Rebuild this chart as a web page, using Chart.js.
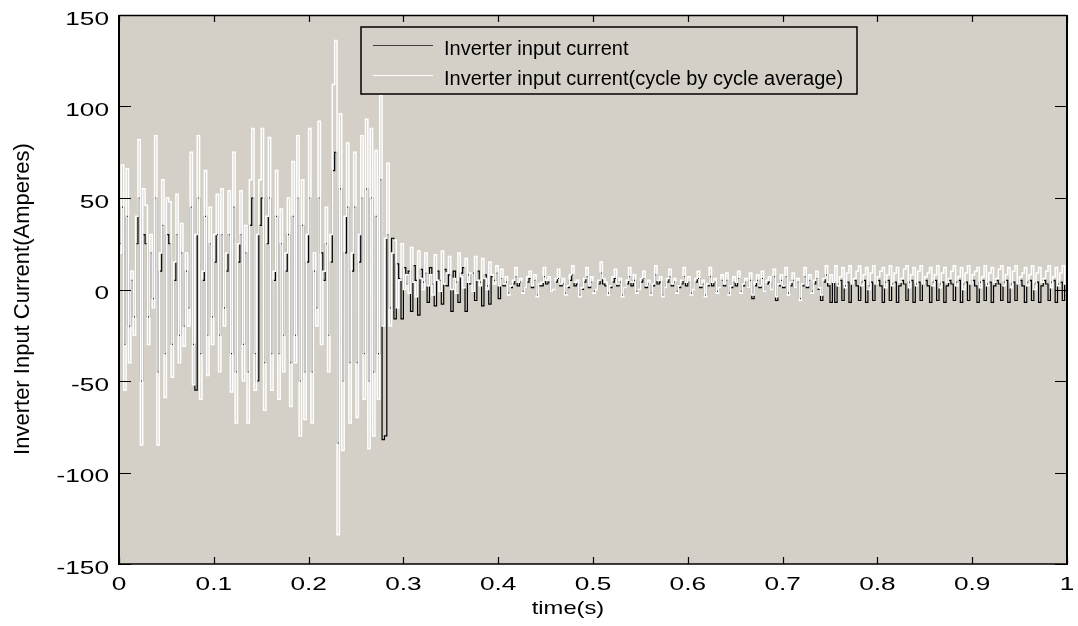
<!DOCTYPE html>
<html>
<head>
<meta charset="utf-8">
<script src="https://cdn.jsdelivr.net/npm/chart.js@4/dist/chart.umd.min.js"></script>
<style>
  html, body { margin: 0; padding: 0; background: #ffffff; }
  #wrap { width: 1078px; height: 626px; position: relative; }
</style>
</head>
<body>
<div id="wrap"><canvas id="c" width="1078" height="626"></canvas></div>
<script>
// Sample spacing of both current records (seconds)
const sampleStep = 0.0025;

// Inverter input current (A), one value per sample
const inputCurrent = [
  25, 45, -30, 40, -20, 5, -15, 25, 50, -50,
  30, 25, -15, 20, -5, 50, -45, 10, 35, -35,
  30, 25, -30, 5, 30, -25, 20, -20, 10, -10,
  45, -30, -55, 50, -35, 5, 40, -25, 25, -15,
  15, 30, -25, 30, -10, 10, 30, -35, 45, -45,
  15, 30, -30, 20, -45, 35, 50, -35, -50, 35,
  50, -40, 25, 50, -35, 5, 40, -35, 25, -25,
  10, 30, -40, 40, -25, 50, -50, 35, -45, 15,
  50, -45, 10, -10, 50, 20, 5, 25, -25, 15,
  65, 75, -84, 55, -50, 20, 45, -40, 10, 45,
  -40, 15, 50, -35, 55, -50, 50, -45, 40, -35,
  60, -82, -80, 30, -10, 28,
  -16, 14, 6, -16, 12, 3, 10, -12, 13, 5,
  -14, 11, 4, 9, -7, 12, 3, -9, 10, 5,
  -8, 11, 2, 8, -12, 10, 4, -7, 9, 12,
  -12, 8, 3, 9, -6, 10, 4, -9, 8, 2,
  -8, 7, 5, 9, -5,
  6, 2, 4, -2, 1, 3,    7, 2, 4, -1, 1, 4,
  6, 1, 5, -3, 2, 2,    7, 3, 4, -1, 0, 4,
  6, 2, 3, -2, 1, 5,    8, 2, 3, -3, 0, 4,
  7, 1, 4, -1, 0, 3,    9, 3, 2, -2, 1, 4,
  6, 2, 4, -3, 1, 3,    7, 2, 5, -1, 0, 4,
  6, 1, 3, -2, 2, 8,    3, 4, -3, 1, 4, 7,
  2, 4, -1, 1, 3, 7,    2, 4, -2, 0, 4, 6,
  1, 3, -3, 2, 7, 2,    4, -1, 1, 5, 2, 5,
  -2, 1, 4, 2, 6, -1,   2, 4, 1, 5, -5, 2,
  5, 1, 6, -1, 3, 4,    0, 7, -6, 2, 5, 1,
  7, -2, 2, 5, 1, 4,    -5, 2, 7, 1, 5, -1,
  3, 6, 0, -6, 4, 8,    2, -7,
  4, -7, 3, 5, -6, 2, 4, -7, 3, 5,
  2, -6, 4, 5, -7, 2, 4, -6, 3, 5,
  2, -7, 4, 5, -6, 3, 4, -7, 2, 5,
  3, -6, 4, 5, -7, 3, 4, -6, 3, 5,
  2, -7, 4, 5, -6, 3, 4, -7, 2, 5,
  3, -6, 4, 5, -7, 3, 4, -6, 3, 5,
  2, -7, 4, 5, -6, 3, 4, -7, 2, 5,
  3, -6, 4, 5, -7, 3, 4, -6, 3, 5,
  2, -7, 4, 5, -6, 3, 4, -7, 2, 5,
  3, -6, 4, 5, -7, 3, 4, -6, 3, 5
];

// Cycle-by-cycle average of the inverter input current (A)
const averageCurrent = [
  20, 68, -55, 66, -40, 10, -25, 40, 82, -85,
  55, 46, -30, 30, -10, 84, -85, 20, 60, -59,
  50, 48, -48, 15, 52, -40, 36, -31, 20, -20,
  75, -52, 30, 84, -60, 10, 65, -47, 45, -30,
  30, 52, -45, 55, -20, 20, 54, -56, 75, -73,
  25, 54, -50, 35, -73, 60, 88, -55, 30, 60,
  88, -66, 40, 83, -55, 10, 65, -60, 44, -45,
  20, 50, -64, 70, -40, 84, -80, 60, -71, 30,
  88, -73, 20, -20, 92, -30, 10, 45, -45, 30,
  112, 136, -134, 96, -88, 40, 80, -73, 20, 75,
  -70, 30, 84, -60, 93, -87, 88, -80, 76, -60,
  106, -20, 28, 69, -20, 20,
  27, -10, 5, 25, 0, 8, -2, 23, 4, -4,
  21, 6, 0, 20, 2, 8, -3, 19, 5, -1,
  21, 3, 9, 18, 0, 6, -2, 20, 7, 1,
  17, 4, 9, -1, 18, 5, 2, 17, 6, 0,
  15, 8, 3, 13, 2,
  11, 3, 7, -3, 2, 5,   12, 4, 6, -2, 1, 7,
  10, 2, 8, -4, 3, 4,   12, 5, 7, -1, 0, 6,
  11, 3, 6, -3, 2, 8,   13, 4, 5, -4, 1, 6,
  12, 2, 7, -2, 0, 5,   15, 6, 4, -3, 2, 7,
  11, 3, 6, -4, 1, 5,   12, 4, 8, -2, 0, 6,
  10, 2, 5, -3, 3, 13,  5, 7, -4, 1, 6, 11,
  3, 6, -2, 2, 5, 12,   4, 7, -3, 0, 6, 10,
  2, 5, -4, 3, 12, 4,   6, -2, 1, 8, 3, 9,
  -3, 2, 7, 4, 10, -2,  3, 6, 1, 9, -3, 4,
  8, 2, 10, -1, 5, 7,   0, 11, -4, 3, 8, 2,
  12, -3, 4, 9, 1, 6,   -6, 3, 12, 2, 8, -2,
  5, 10, 1, -3, 6, 13,  4, 8,
  4, 13, 2, 7, 12, 1, 9, 13, 3, 6,
  10, 13, 2, 8, 12, 0, 9, 13, 3, 7,
  10, 12, 1, 8, 13, 2, 9, 12, 4, 6,
  11, 13, 1, 8, 12, 2, 10, 13, 3, 7,
  9, 12, 2, 8, 13, 1, 9, 12, 4, 6,
  10, 13, 2, 7, 12, 0, 9, 13, 3, 8,
  10, 12, 1, 7, 13, 2, 9, 12, 4, 6,
  11, 13, 2, 8, 12, 1, 10, 13, 3, 7,
  9, 12, 2, 8, 13, 0, 9, 12, 4, 6,
  10, 13, 1, 7, 12, 2, 9, 13, 3, 8
];

const seriesNames = ['Inverter input current', 'Inverter input current(cycle by cycle average)'];
const seriesColors = ['#000000', '#ffffff'];

const xTickValues = [0, 0.1, 0.2, 0.3, 0.4, 0.5, 0.6, 0.7, 0.8, 0.9, 1];
const xTickLabels = ['0', '0.1', '0.2', '0.3', '0.4', '0.5', '0.6', '0.7', '0.8', '0.9', '1'];
const yTickValues = [-150, -100, -50, 0, 50, 100, 150];
const yTickLabels = ['-150', '-100', '-50', '0', '50', '100', '150'];

const xTitle = 'time(s)';
const yTitle = 'Inverter Input Current(Amperes)';

const toPoints = arr => arr.map((v, i) => ({ x: Math.round(i * sampleStep * 10000) / 10000, y: v }));

const AXES_BG = '#d4d0c8';
const TICK_FONT = '19px "Liberation Sans", Arial, sans-serif';
const TICK_STRETCH = 1.38;

function wideText(ctx, text, x, y, align, sx) {
  ctx.save();
  ctx.translate(x, y);
  ctx.scale(sx, 1);
  ctx.textAlign = align;
  ctx.fillText(text, 0, 0);
  ctx.restore();
}

// MATLAB-style boxed axes: grey plot area, inward ticks on all four sides, boxed legend
const matlabAxes = {
  id: 'matlabAxes',
  beforeDraw(chart) {
    const { ctx, chartArea: a } = chart;
    ctx.save();
    ctx.fillStyle = '#ffffff';
    ctx.fillRect(0, 0, chart.width, chart.height);
    ctx.fillStyle = AXES_BG;
    ctx.fillRect(a.left, a.top, a.right - a.left, a.bottom - a.top);
    ctx.restore();
  },
  afterDraw(chart) {
    const { ctx, chartArea: a } = chart;
    const xs = chart.scales.x, ys = chart.scales.y;
    ctx.save();
    ctx.strokeStyle = '#000';
    ctx.fillStyle = '#000';

    // ticks
    ctx.lineWidth = 1.2;
    xTickValues.forEach(v => {
      const px = Math.round(xs.getPixelForValue(v)) + 0.5;
      ctx.beginPath();
      ctx.moveTo(px, a.bottom); ctx.lineTo(px, a.bottom - 7);
      ctx.moveTo(px, a.top); ctx.lineTo(px, a.top + 7);
      ctx.stroke();
    });
    yTickValues.forEach(v => {
      const py = Math.round(ys.getPixelForValue(v)) + 0.5;
      ctx.beginPath();
      ctx.moveTo(a.left, py); ctx.lineTo(a.left + 12, py);
      ctx.moveTo(a.right, py); ctx.lineTo(a.right - 12, py);
      ctx.stroke();
    });

    // box
    ctx.lineWidth = 1.4;
    ctx.beginPath();
    ctx.moveTo(a.left, a.top + 0.5); ctx.lineTo(a.right, a.top + 0.5);
    ctx.moveTo(a.left, a.bottom); ctx.lineTo(a.right, a.bottom);
    ctx.stroke();
    ctx.lineWidth = 2;
    ctx.beginPath();
    ctx.moveTo(a.left, a.top); ctx.lineTo(a.left, a.bottom + 1);
    ctx.moveTo(a.right, a.top); ctx.lineTo(a.right, a.bottom + 1);
    ctx.stroke();

    // tick labels
    ctx.font = TICK_FONT;
    ctx.textBaseline = 'alphabetic';
    xTickValues.forEach((v, i) => {
      wideText(ctx, xTickLabels[i], xs.getPixelForValue(v), 590, 'center', TICK_STRETCH);
    });
    yTickValues.forEach((v, i) => {
      wideText(ctx, yTickLabels[i], a.left - 10, ys.getPixelForValue(v) + 9.5, 'right', TICK_STRETCH);
    });

    // axis titles
    wideText(ctx, xTitle, 568, 614, 'center', 1.25);
    ctx.save();
    ctx.translate(29, 299);
    ctx.rotate(-Math.PI / 2);
    ctx.font = '22px "Liberation Sans", Arial, sans-serif';
    ctx.textAlign = 'center';
    ctx.fillText(yTitle, 0, 0);
    ctx.restore();

    // legend
    const lx = 361, ly = 27, lw = 496, lh = 67;
    ctx.fillStyle = AXES_BG;
    ctx.fillRect(lx, ly, lw, lh);
    ctx.lineWidth = 1.5;
    ctx.strokeStyle = '#000';
    ctx.strokeRect(lx, ly, lw, lh);
    ctx.font = '20px "Liberation Sans", Arial, sans-serif';
    ctx.textAlign = 'left';
    chart.data.datasets.forEach((ds, i) => {
      const rowY = 45 + i * 30;
      ctx.strokeStyle = ds.legendLine;
      ctx.lineWidth = 1.2;
      ctx.beginPath();
      ctx.moveTo(373, rowY + 0.5); ctx.lineTo(433, rowY + 0.5);
      ctx.stroke();
      ctx.fillStyle = '#000';
      ctx.fillText(ds.label, 444, rowY + 10);
    });
    ctx.restore();
  }
};

new Chart(document.getElementById('c'), {
  type: 'line',
  data: {
    datasets: [
      {
        label: seriesNames[0],
        data: toPoints(inputCurrent),
        borderColor: seriesColors[0],
        legendLine: '#404040',
        borderWidth: 1.2,
        pointRadius: 0,
        stepped: true,
        order: 2
      },
      {
        label: seriesNames[1],
        data: toPoints(averageCurrent),
        borderColor: seriesColors[1],
        legendLine: '#ffffff',
        borderWidth: 1.5,
        pointRadius: 0,
        stepped: true,
        order: 1
      }
    ]
  },
  options: {
    responsive: false,
    animation: false,
    devicePixelRatio: 1,
    layout: { padding: { left: 119, right: 11, top: 15, bottom: 62 } },
    plugins: { legend: { display: false }, tooltip: { enabled: false } },
    scales: {
      x: { type: 'linear', min: 0, max: 1, display: false },
      y: { type: 'linear', min: -150, max: 150, display: false }
    }
  },
  plugins: [matlabAxes]
});
</script>
</body>
</html>
